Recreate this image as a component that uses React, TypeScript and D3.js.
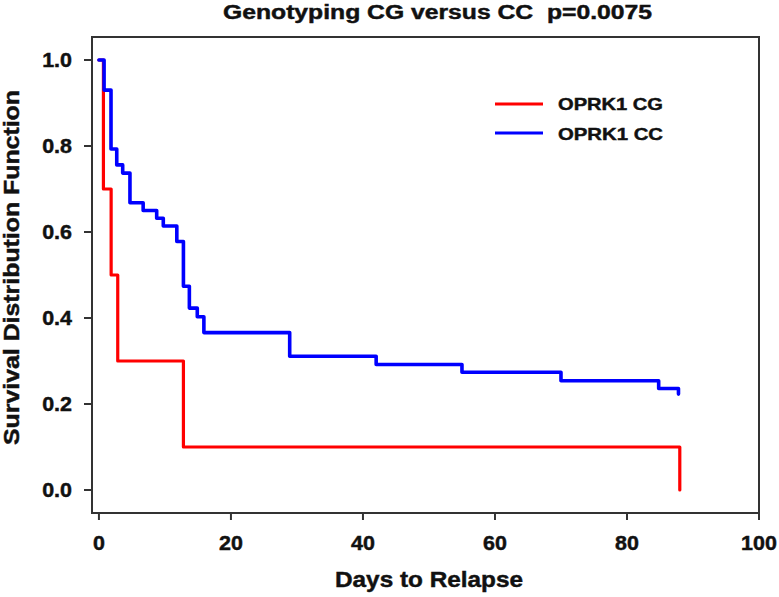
import React from "react";
import * as d3 from "d3";

const cgDays = [0, 0.68, 1.85, 2.85, 12.8, 88];
const cgSurvival = [1, 0.7, 0.5, 0.3, 0.1, 0];

const ccDays = [0, 0.78, 1.83, 2.7, 3.6, 4.7, 6.7, 8.75, 9.75, 11.8, 12.8, 13.7, 14.9, 15.9, 28.9, 42, 55, 70, 84.8, 87.8];
const ccSurvival = [1, 0.93, 0.793, 0.756, 0.737, 0.668, 0.65, 0.632, 0.614, 0.578, 0.474, 0.423, 0.403, 0.366, 0.311, 0.292, 0.274, 0.254, 0.236, 0.223];

const xTicks = [0, 20, 40, 60, 80, 100];
const yTicks = [0, 0.2, 0.4, 0.6, 0.8, 1.0];

const seriesNames = ["OPRK1 CG", "OPRK1 CC"];
const seriesColors = ["#ff0000", "#0000ff"];
const titleText = "Genotyping CG versus CC  p=0.0075";
const xLabel = "Days to Relapse";
const yLabel = "Survival Distribution Function";

const W = 779;
const H = 597;
const left = 92, right = 759, top = 37, bottom = 513;
const FONT = "'Liberation Sans', Arial, Helvetica, sans-serif";

export default function App() {
  const x = d3.scaleLinear().domain([-1.05, 100]).range([left, right]);
  const y = d3.scaleLinear().domain([-0.0535, 1.0535]).range([bottom, top]);
  const line = d3
    .line<[number, number]>()
    .x((d) => x(d[0]))
    .y((d) => y(d[1]))
    .curve(d3.curveStepAfter);
  const cg = cgDays.map((d, i) => [d, cgSurvival[i]] as [number, number]);
  const cc = ccDays.map((d, i) => [d, ccSurvival[i]] as [number, number]);
  const txt = { fontFamily: FONT, fontWeight: 700, fill: "#111", stroke: "#111", strokeWidth: 0.45 } as const;
  const axisColor = "#333";

  return (
    <svg width={W} height={H} style={{ position: "absolute", left: 0, top: 0, background: "#fff" }}>
      <rect x={0} y={0} width={W} height={H} fill="#fff" />
      <text x={223} y={19} fontSize={20} textLength={429} lengthAdjust="spacingAndGlyphs" style={{ whiteSpace: "pre" }} {...txt}>
        {titleText}
      </text>
      <path d={line(cg) || ""} fill="none" stroke={seriesColors[0]} strokeWidth={3.2} strokeLinejoin="round" strokeLinecap="round" />
      <path d={line(cc) || ""} fill="none" stroke={seriesColors[1]} strokeWidth={3.6} strokeLinejoin="round" strokeLinecap="round" />
      <rect x={left} y={top} width={right - left} height={bottom - top} fill="none" stroke={axisColor} strokeWidth={2} />
      {yTicks.map((t) => (
        <g key={"y" + t}>
          <line x1={left - 8} x2={left} y1={y(t)} y2={y(t)} stroke={axisColor} strokeWidth={2} />
          <text transform={`translate(72,${y(t)}) scale(1.1,1)`} dy="0.36em" textAnchor="end" fontSize={19.5} {...txt}>
            {t.toFixed(1)}
          </text>
        </g>
      ))}
      {xTicks.map((t) => (
        <g key={"x" + t}>
          <line x1={x(t)} x2={x(t)} y1={bottom} y2={bottom + 7} stroke={axisColor} strokeWidth={2} />
          <text transform={`translate(${x(t)},550) scale(1.1,1)`} textAnchor="middle" fontSize={19.5} {...txt}>
            {t}
          </text>
        </g>
      ))}
      <text x={335} y={587} fontSize={22} textLength={188} lengthAdjust="spacingAndGlyphs" {...txt}>
        {xLabel}
      </text>
      <text transform="translate(19,267.5) rotate(-90)" textAnchor="middle" fontSize={22} textLength={355} lengthAdjust="spacingAndGlyphs" {...txt}>
        {yLabel}
      </text>
      {seriesNames.map((n, i) => (
        <g key={n}>
          <line x1={495} x2={543} y1={104 + i * 29} y2={104 + i * 29} stroke={seriesColors[i]} strokeWidth={3.2} />
          <text x={558} y={110 + i * 30} fontSize={17} textLength={105} lengthAdjust="spacingAndGlyphs" {...txt}>
            {n}
          </text>
        </g>
      ))}
    </svg>
  );
}
